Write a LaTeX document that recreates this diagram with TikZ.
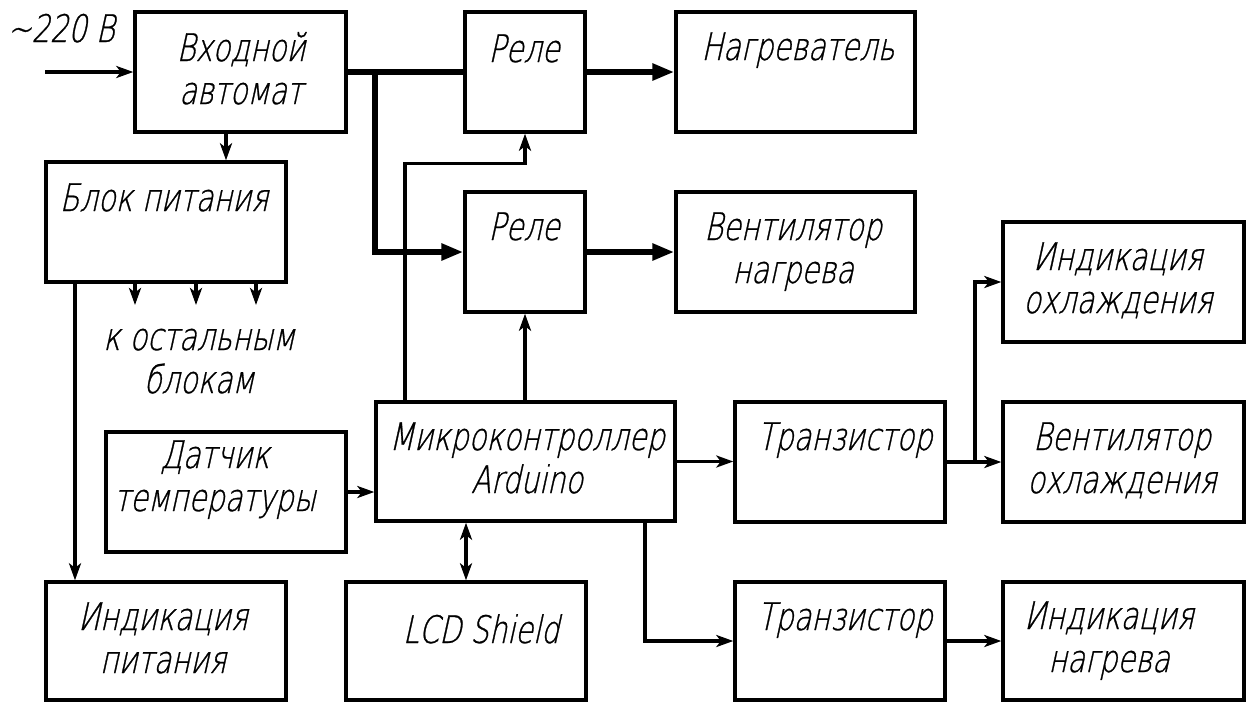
\documentclass[tikz,border=0pt]{standalone}
\usepackage{fontspec}
\usetikzlibrary{arrows.meta,calc}
\IfFontExistsTF{DejaVu Sans ExtraLight}
  {\newfontfamily\gost[FakeSlant=0.22,FakeStretch=0.76,FakeBold=0.7]{DejaVu Sans ExtraLight}}
  {\newfontfamily\gost[FakeSlant=0.22,FakeStretch=0.76]{DejaVu Sans}}
\tikzset{
  box/.style 2 args={draw, line width=3.4pt, minimum width=#1, minimum height=#2, inner sep=0pt},
  txt/.style={font=\gost\fontsize{38}{43}\selectfont, align=center, inner sep=0pt, anchor=base},
  conn/.style={line width=3.2pt, -{Stealth[length=17pt,width=12pt,inset=4.5pt]}},
  dbl/.style={line width=3.2pt, {Stealth[length=17pt,width=12pt,inset=4.5pt]}-{Stealth[length=17pt,width=12pt,inset=4.5pt]}},
  bus/.style={line width=6.5pt},
  busarrow/.style={line width=6.5pt, -{Triangle[length=22pt,width=16pt]}},
}
\begin{document}
\begin{tikzpicture}[x=1pt,y=-1pt]
\useasboundingbox (0,0) rectangle (1253,702);
% boxes
\node[box={211pt}{120pt}] (vh) at (240.5,72) {};
\node[box={240pt}{120pt}] (bp) at (166,222) {};
\node[box={120pt}{120pt}] (r1) at (525,72) {};
\node[box={239pt}{120pt}] (ng) at (795.5,72) {};
\node[box={120pt}{120pt}] (r2) at (525,252) {};
\node[box={239pt}{120pt}] (vn) at (795.5,252) {};
\node[box={241pt}{120pt}] (io) at (1123.5,282) {};
\node[box={241pt}{120pt}] (vo) at (1123.5,462) {};
\node[box={241pt}{118pt}] (inn) at (1123.5,641) {};
\node[box={210pt}{120pt}] (t1) at (840,462) {};
\node[box={210pt}{118pt}] (t2) at (840,641) {};
\node[box={299pt}{119pt}] (mc) at (525.5,461.5) {};
\node[box={240pt}{120pt}] (dt) at (226,492) {};
\node[box={240pt}{118pt}] (ip) at (166,641) {};
\node[box={240pt}{118pt}] (lcd) at (466,641) {};
% texts (anchor base = baseline of the last line)
\node[txt] (tv) at (61,42) {{\char"7E}220 В};
\node[txt] (tvh) at (241,104) {Входной\\автомат};
\node[txt] (tbp) at (164,211) {Блок питания};
\node[txt] (tr1) at (524,62) {Реле};
\node[txt] (tng) at (798,60) {Нагреватель};
\node[txt] (tr2) at (524,240) {Реле};
\node[txt] (tvn) at (793,283) {Вентилятор\\нагрева};
\node[txt] (tio) at (1118,313) {Индикация\\охлаждения};
\node[txt] (tvo) at (1122,493) {Вентилятор\\охлаждения};
\node[txt] (tin) at (1109,672) {Индикация\\нагрева};
\node[txt] (tt1) at (845,450) {Транзистор};
\node[txt] (tt2) at (845,630) {Транзистор};
\node[txt] (tmc) at (527,493) {Микроконтроллер\\Arduino};
\node[txt] (tdt) at (215,511) {Датчик\\температуры};
\node[txt] (tip) at (163,673) {Индикация\\питания};
\node[txt] (tlcd) at (481,643) {LCD Shield};
\node[txt] (tko) at (199,393) {к остальным\\блокам};
% free ends and junctions
\coordinate (in0) at (45,72);
\coordinate (j1) at (375,72);
\coordinate (o1) at (135,305);
\coordinate (o2) at (196,305);
\coordinate (o3) at (256,305);
\coordinate (lx) at (75,0);
\coordinate (j2) at (975,462);
% connectors
\draw[conn] (in0) -- (vh.west);
\draw[bus] (vh.east) -- (r1.west);
\draw[busarrow] (j1) |- (r2.west);
\draw[busarrow] (r1.east) -- (ng.west);
\draw[busarrow] (r2.east) -- (vn.west);
\draw[conn] ([xshift=-14.5pt]vh.south) -- ([xshift=-14.5pt]vh.south |- bp.north);
\draw[conn] (o1 |- bp.south) -- (o1);
\draw[conn] (o2 |- bp.south) -- (o2);
\draw[conn] (o3 |- bp.south) -- (o3);
\draw[conn] (bp.south -| lx) -- (ip.north -| lx);
\draw[conn] ([xshift=-120.5pt]mc.north) |- ($(r1.south)+(0,30)$) -- (r1.south);
\draw[conn] (r2.south |- mc.north) -- (r2.south);
\draw[conn] (dt.east) -- (dt.east -| mc.west);
\draw[dbl] (lcd.north |- mc.south) -- (lcd.north);
\draw[conn] (mc.east) -- (mc.east -| t1.west);
\draw[conn] ([xshift=119.5pt]mc.south) |- (t2.west);
\draw[conn] (t1.east) -- (vo.west);
\draw[conn] (j2) |- (io.west);
\draw[conn] (t2.east) -- (inn.west);
\end{tikzpicture}
\end{document}
